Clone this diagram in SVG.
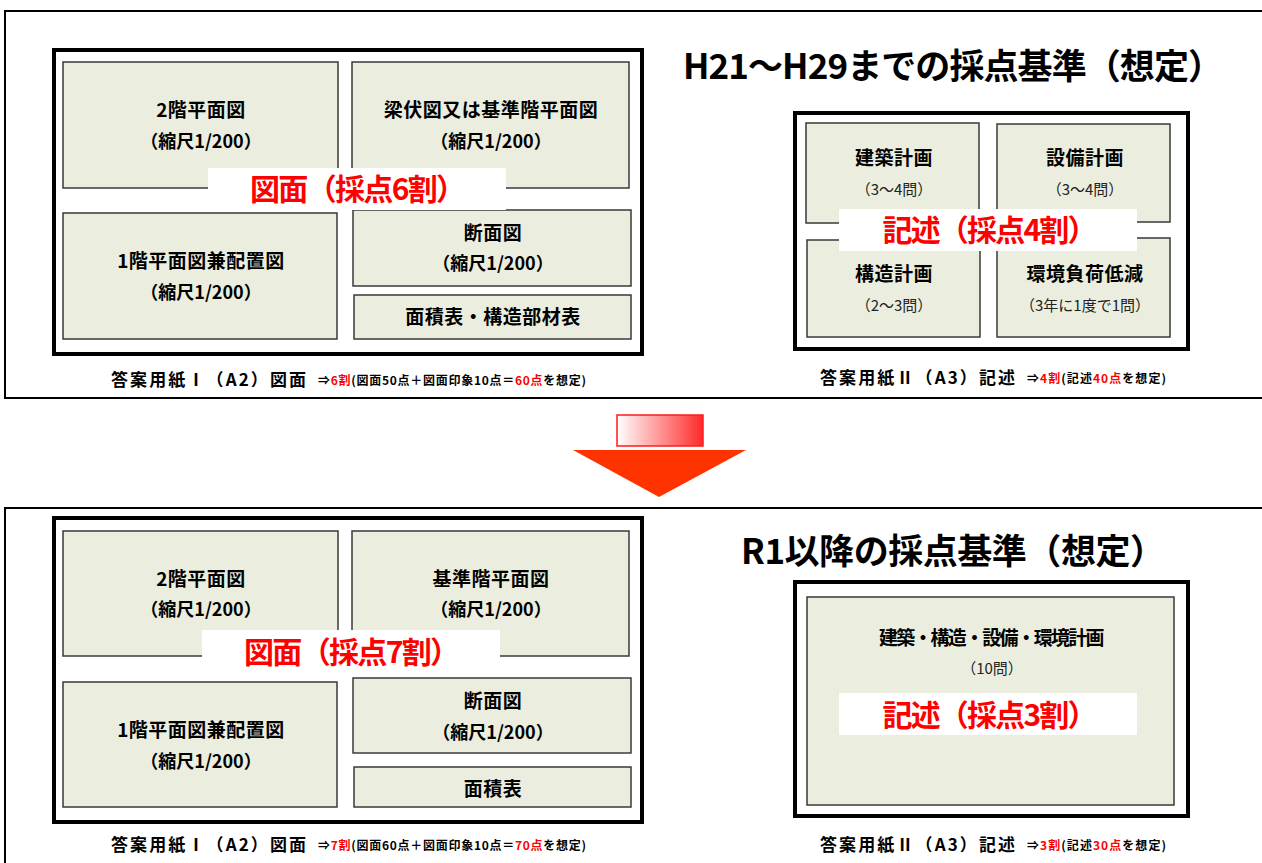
<svg xmlns="http://www.w3.org/2000/svg" width="1262" height="863" viewBox="0 0 1262 863">
<defs>
<linearGradient id="gArrow" x1="0" y1="0" x2="1" y2="0">
<stop offset="0" stop-color="#FFFFFF"/>
<stop offset="1" stop-color="#FF2A2A"/>
</linearGradient>
<style>
text{font-family:"Noto Sans CJK JP","Noto Sans",sans-serif;text-anchor:middle;dominant-baseline:central;fill:#000}
.frame{fill:none;stroke:#000;stroke-width:2}
.sheet{fill:#FFFFFF;stroke:#000;stroke-width:4}
.cell{fill:#EBEEDE;stroke:#3A3A3A;stroke-width:1.5}
.lbl{fill:#FFFFFF}
.t{font-size:19px;font-weight:700;letter-spacing:0.5px}
.s{font-size:18px;font-weight:700}
.q{font-size:15px;font-weight:400;fill:#222}
.red{font-size:30px;font-weight:700;fill:#FF0000}
.title{font-size:35px;font-weight:700}
.cap{font-size:17px;font-weight:700;text-anchor:start}
.sm{font-size:12px;font-weight:700;text-anchor:start}
.r{fill:#FF0000}
</style>
</defs>

<!-- outer frames -->
<rect class="frame" x="5" y="11" width="1270" height="387"/>
<rect class="frame" x="5" y="508" width="1270" height="380"/>

<!-- ===== TOP: H21-H29 ===== -->
<g id="title-top"><text class="title" x="953" y="63" textLength="540">H21～H29までの採点基準（想定）</text></g>

<g id="sheet-a2-top">
<rect class="sheet" x="54" y="50" width="588" height="304"/>
<g id="cell-2f-top"><rect class="cell" x="63" y="62" width="275" height="126"/>
<text class="t" x="201" y="108">2階平面図</text><text class="s" x="201" y="140">（縮尺1/200）</text></g>
<g id="cell-beam-top"><rect class="cell" x="352" y="62" width="277" height="126"/>
<text class="t" x="491" y="108">梁伏図又は基準階平面図</text><text class="s" x="491" y="140">（縮尺1/200）</text></g>
<g id="cell-1f-top"><rect class="cell" x="63" y="213" width="274" height="126"/>
<text class="t" x="201" y="259">1階平面図兼配置図</text><text class="s" x="201" y="291">（縮尺1/200）</text></g>
<g id="cell-sec-top"><rect class="cell" x="353" y="210" width="278" height="76"/>
<text class="t" x="493" y="231">断面図</text><text class="s" x="493" y="262">（縮尺1/200）</text></g>
<g id="cell-area-top"><rect class="cell" x="354" y="295" width="277" height="44"/>
<text class="t" x="493" y="315">面積表・構造部材表</text></g>
<g id="label-a2-top"><rect class="lbl" x="208" y="168" width="298" height="42"/>
<text class="red" x="358" y="187" textLength="216">図面（採点6割）</text></g>
</g>
<g id="caption-a2-top">
<text class="cap" x="111" y="378" textLength="195">答案用紙Ⅰ（A2）図面</text>
<text class="sm" x="318" y="379" textLength="268">⇒<tspan class="r">6割</tspan>(図面50点＋図面印象10点＝<tspan class="r">60点</tspan>を想定)</text>
</g>

<g id="sheet-a3-top">
<rect class="sheet" x="795" y="113" width="393" height="236"/>
<g id="cell-arch-top"><rect class="cell" x="806" y="123" width="173" height="100"/>
<text class="t" x="894" y="156">建築計画</text><text class="q" x="894" y="188">（3～4問）</text></g>
<g id="cell-equip-top"><rect class="cell" x="997" y="124" width="173" height="98"/>
<text class="t" x="1085" y="156">設備計画</text><text class="q" x="1085" y="188">（3～4問）</text></g>
<g id="cell-struct-top"><rect class="cell" x="807" y="240" width="173" height="97"/>
<text class="t" x="894" y="272">構造計画</text><text class="q" x="894" y="304">（2～3問）</text></g>
<g id="cell-env-top"><rect class="cell" x="997" y="238" width="173" height="99"/>
<text class="t" x="1085" y="272">環境負荷低減</text><text class="q" x="1085" y="304">（3年に1度で1問）</text></g>
<g id="label-a3-top"><rect class="lbl" x="839" y="209" width="298" height="42"/>
<text class="red" x="990" y="228" textLength="215">記述（採点4割）</text></g>
</g>
<g id="caption-a3-top">
<text class="cap" x="820" y="376" textLength="195">答案用紙Ⅱ（A3）記述</text>
<text class="sm" x="1027" y="377" textLength="139">⇒<tspan class="r">4割</tspan>(記述<tspan class="r">40点</tspan>を想定)</text>
</g>

<!-- ===== ARROW ===== -->
<g id="arrow">
<rect x="617" y="415" width="86" height="31" fill="url(#gArrow)" stroke="#FF1A1A" stroke-width="1.5"/>
<polygon points="573,450 746,450 659,497" fill="#FF3300"/>
</g>

<!-- ===== BOTTOM: R1 ===== -->
<g id="title-bottom"><text class="title" x="953" y="548" textLength="424">R1以降の採点基準（想定）</text></g>

<g id="sheet-a2-bottom">
<rect class="sheet" x="54" y="518" width="588" height="304"/>
<g id="cell-2f-bottom"><rect class="cell" x="63" y="531" width="275" height="125"/>
<text class="t" x="201" y="577">2階平面図</text><text class="s" x="201" y="608">（縮尺1/200）</text></g>
<g id="cell-std-bottom"><rect class="cell" x="352" y="531" width="277" height="125"/>
<text class="t" x="491" y="577">基準階平面図</text><text class="s" x="491" y="608">（縮尺1/200）</text></g>
<g id="cell-1f-bottom"><rect class="cell" x="63" y="682" width="274" height="125"/>
<text class="t" x="201" y="728">1階平面図兼配置図</text><text class="s" x="201" y="760">（縮尺1/200）</text></g>
<g id="cell-sec-bottom"><rect class="cell" x="353" y="678" width="278" height="75"/>
<text class="t" x="493" y="699">断面図</text><text class="s" x="493" y="731">（縮尺1/200）</text></g>
<g id="cell-area-bottom"><rect class="cell" x="354" y="767" width="277" height="40"/>
<text class="t" x="493" y="787">面積表</text></g>
<g id="label-a2-bottom"><rect class="lbl" x="202" y="630" width="298" height="38"/>
<text class="red" x="352" y="650" textLength="216">図面（採点7割）</text></g>
</g>
<g id="caption-a2-bottom">
<text class="cap" x="111" y="843" textLength="195">答案用紙Ⅰ（A2）図面</text>
<text class="sm" x="318" y="844" textLength="268">⇒<tspan class="r">7割</tspan>(図面60点＋図面印象10点＝<tspan class="r">70点</tspan>を想定)</text>
</g>

<g id="sheet-a3-bottom">
<rect class="sheet" x="795" y="582" width="393" height="234"/>
<g id="cell-all-bottom"><rect class="cell" x="807" y="597" width="367" height="208"/>
<text class="t" x="992" y="636" textLength="226">建築・構造・設備・環境計画</text><text class="q" x="992" y="667">（10問）</text></g>
<g id="label-a3-bottom"><rect class="lbl" x="839" y="693" width="298" height="42"/>
<text class="red" x="990" y="713" textLength="215">記述（採点3割）</text></g>
</g>
<g id="caption-a3-bottom">
<text class="cap" x="820" y="843" textLength="195">答案用紙Ⅱ（A3）記述</text>
<text class="sm" x="1027" y="844" textLength="139">⇒<tspan class="r">3割</tspan>(記述<tspan class="r">30点</tspan>を想定)</text>
</g>

<g id="connectors"></g>
</svg>
